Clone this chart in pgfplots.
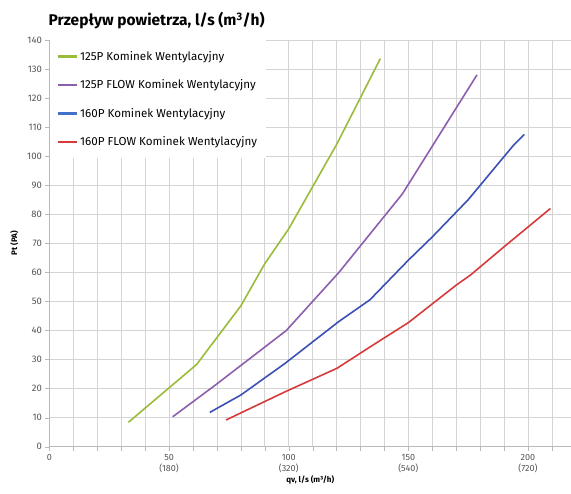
\documentclass[border=0pt]{standalone}
\usepackage{fontspec}
\setmainfont{Fira Sans}
\usepackage{pgfplots}
\pgfplotsset{compat=1.18}

\definecolor{cgreen}{HTML}{9BBB3B}
\definecolor{cpurple}{HTML}{8C5FAE}
\definecolor{cblue}{HTML}{3B4FB5}
\definecolor{cblueleg}{HTML}{3F72C8}
\definecolor{cred}{HTML}{D63A3A}
\definecolor{gridc}{HTML}{D4D4D4}
\definecolor{tickc}{HTML}{555555}

\begin{document}
\begin{tikzpicture}
\begin{axis}[
    at={(0pt,0pt)}, anchor=south west,
    scale only axis,
    width=521.5pt, height=406.7pt,
    xmin=0, xmax=218,
    ymin=0, ymax=140,
    axis lines*=left,
    axis line style={-, draw=gray!55},
    xtick={0,50,100,150,200},
    xticklabels={0,{50\\(180)},{100\\(320)},{150\\(540)},{200\\(720)}},
    xticklabel style={align=center, font=\fontsize{9}{11}\selectfont, text=tickc},
    minor xtick={10,20,...,210},
    ytick={0,10,...,140},
    yticklabel style={font=\fontsize{9.5}{11}\selectfont, text=tickc},
    /pgf/number format/assume math mode=true,
    grid=both,
    major grid style={draw=gridc, line width=0.6pt},
    minor grid style={draw=gridc, line width=0.6pt},
    tick align=outside,
    major tick length=4pt, minor tick length=4pt,
    tick style={draw=gray!55},
    xlabel={\textbf{qv, l/s (m³/h)}},
    xlabel style={font=\fontsize{8}{9}\selectfont, yshift=4pt},
    ylabel={\textbf{Pt (PA)}},
    ylabel style={font=\fontsize{8}{9}\selectfont, yshift=2pt},
    legend cell align=left,
    legend style={at={(0,1)}, anchor=north west, draw=none, fill=white,
        font=\fontsize{11.6}{13}\selectfont, row sep=14pt,
        inner xsep=7pt, inner ysep=9pt},
    legend image code/.code={\draw[#1, line width=2.4pt] (0pt,0pt) -- (19pt,0pt);},
    every axis plot/.append style={line width=1.6pt},
]
\addplot[cgreen, forget plot] coordinates {
  (33,8.4) (61.5,28.3) (80,48.5) (90,63) (100,75) (120,104) (138.3,133.6)
};
\addplot[cpurple, forget plot] coordinates {
  (51.5,10.3) (69,21) (99,40) (121,60) (147.5,87) (178.7,128)
};
\addplot[cblue, forget plot] coordinates {
  (67,11.8) (80,17.8) (98.5,28.7) (120.8,43) (134,50.6) (150,64.2) (160,72.2) (175,85) (194,103.8) (198.5,107.5)
};
\addplot[cred, forget plot] coordinates {
  (73.8,9.2) (98.5,18.9) (120.2,27) (134.1,34.4) (150,42.7) (170,55.6) (176,59.1) (190,68.8) (209.4,82)
};
\addlegendimage{cgreen}
\addlegendentry{125P Kominek Wentylacyjny}
\addlegendimage{cpurple}
\addlegendentry{125P FLOW Kominek Wentylacyjny}
\addlegendimage{cblueleg}
\addlegendentry{160P Kominek Wentylacyjny}
\addlegendimage{cred}
\addlegendentry{160P FLOW Kominek Wentylacyjny}
\end{axis}
\node[anchor=base west, font=\bfseries\fontsize{15.5}{18}\selectfont, inner sep=0pt]
  at (-1pt, 421pt) {Przepływ powietrza, l/s (m\textsuperscript{3}/h)};
\pgfresetboundingbox
\useasboundingbox (-49.5pt,-47.3pt) rectangle (521.5pt,446.7pt);
\end{tikzpicture}
\end{document}
